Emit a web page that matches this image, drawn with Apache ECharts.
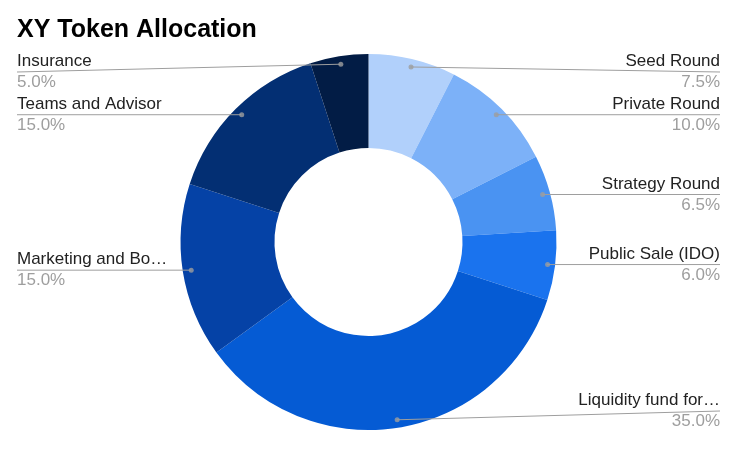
<!DOCTYPE html>
<html><head><meta charset="utf-8">
<script src="https://cdn.jsdelivr.net/npm/echarts@6/dist/echarts.min.js"></script>
<style>html,body{margin:0;padding:0;background:#fff}#c{width:741px;height:451px}</style>
</head><body><div id="c"></div>
<script>
const categories = ['Seed Round','Private Round','Strategy Round','Public Sale (IDO)','Liquidity fund for exchange listing','Marketing and Bounty','Teams and Advisor','Insurance'];
const displayNames = ['Seed Round','Private Round','Strategy Round','Public Sale (IDO)','Liquidity fund for…','Marketing and Bo…','Teams and Advisor','Insurance'];
const values = [7.5, 10.0, 6.5, 6.0, 35.0, 15.0, 15.0, 5.0];
const colors = ['#b1d0fb','#7cb1f8','#4a93f2','#1a73ee','#055bd4','#0542a6','#032f73','#021c45'];

const chart = echarts.init(document.getElementById('c'), null, {renderer:'canvas'});
const total = values.reduce((a,b)=>a+b,0);
let cum = 0;
const mids = values.map(v => { const m = cum + v/2; cum += v; return m / total * 100; });

const pieData = categories.map((c,i)=>({name:c, value:values[i], itemStyle:{color:colors[i]}}));
const labelData = categories.map((c,i)=>({name:displayNames[i], value:values[i]}));

const box = {left:17, right:21, top:51, bottom:20};
const labelMinY = 72, labelMaxY = 411;

chart.setOption({
  animation:false,
  title:{text:'XY Token Allocation', left:12, top:13, textStyle:{fontFamily:'Liberation Sans, Arial', fontSize:25, fontWeight:'bold', color:'#000'}},
  polar:{center:[369,242], radius:188},
  angleAxis:{min:0,max:100,startAngle:90,clockwise:true,show:false},
  radiusAxis:{min:0,max:188,show:false},
  series:[
    Object.assign({type:'pie', center:['50%',191], radius:[94,188], startAngle:90, clockwise:true,
     label:{show:false}, labelLine:{show:false}, silent:true, data:pieData, z:1,
     itemStyle:{borderWidth:0}}, box),
    Object.assign({type:'pie', center:['50%',191], radius:[0,180], startAngle:90, clockwise:true,
     silent:true, z:3, data:labelData,
     itemStyle:{color:'rgba(0,0,0,0)'},
     label:{show:true, position:'outside', alignTo:'edge', edgeDistance:0,
       formatter: p => '{n|' + p.name + '}\n{v|' + p.value.toFixed(1) + '%}',
       rich:{
         n:{fontFamily:'Liberation Sans, Arial', fontSize:17, color:'#222', lineHeight:21},
         v:{fontFamily:'Liberation Sans, Arial', fontSize:17, color:'#9e9e9e', lineHeight:21}
       }},
     labelLine:{show:true, length:2, length2:0, lineStyle:{color:'#9e9e9e', width:1}},
     labelLayout: function(params){
       const isLeft = params.labelRect.x < 741/2;
       const pts = params.labelLinePoints;
       if (!pts) return {};
       const y = Math.min(labelMaxY, Math.max(labelMinY, pts[0][1]));
       pts[1] = [pts[0][0], pts[0][1]];
       pts[2] = [isLeft ? params.labelRect.x : params.labelRect.x + params.labelRect.width, y];
       return {labelLinePoints: pts, y: y, verticalAlign: 'middle'};
     }
    }, box),
    {type:'scatter', coordinateSystem:'polar', symbolSize:5, silent:true, z:4,
     itemStyle:{color:'#9e9e9e'},
     data: mids.map(m=>[180, m])}
  ]
});
</script></body></html>
